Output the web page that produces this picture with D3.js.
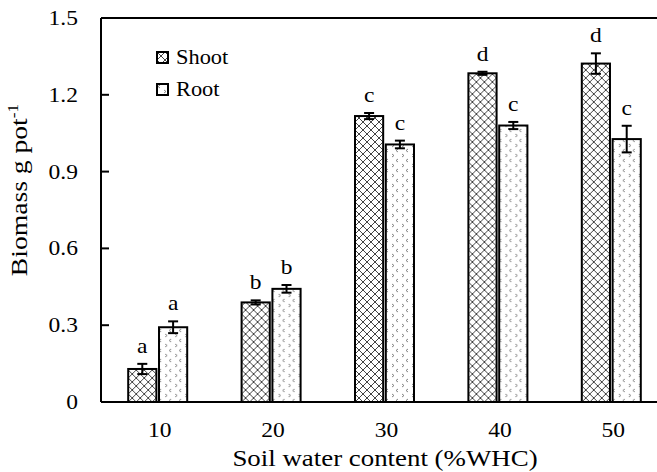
<!DOCTYPE html>
<html><head><meta charset="utf-8">
<script src="https://cdn.jsdelivr.net/npm/d3@7/dist/d3.min.js"></script>
<style>body{margin:0;background:#fff}svg{display:block}</style>
</head><body>
<script>
const categories = ["10","20","30","40","50"];
const seriesNames = ["Shoot","Root"];
const shootValues = [0.129, 0.389, 1.117, 1.284, 1.322];
const rootValues  = [0.292, 0.442, 1.006, 1.080, 1.027];
const shootErrors = [0.020, 0.008, 0.012, 0.006, 0.040];
const rootErrors  = [0.023, 0.015, 0.015, 0.014, 0.052];
const shootLetters = ["a","b","c","d","d"];
const rootLetters  = ["a","b","c","c","c"];
const yTicks = [0, 0.3, 0.6, 0.9, 1.2, 1.5];
const yTickLabels = ["0","0.3","0.6","0.9","1.2","1.5"];

const W = 657, H = 472;
const m = {left:101, top:18, right:-11, bottom:70};
const pw = W - m.left - m.right, ph = H - m.top - m.bottom;
const SX = 1.12;
const font = "'Liberation Serif','Times New Roman',serif";

const svg = d3.select("body").append("svg").attr("width", W).attr("height", H);
const defs = svg.append("defs");
const ph1 = defs.append("pattern").attr("id","cross").attr("patternUnits","userSpaceOnUse")
  .attr("width",8).attr("height",8);
ph1.append("rect").attr("width",8).attr("height",8).attr("fill","#fff");
ph1.append("path").attr("d","M0,0L8,8M8,0L0,8").attr("stroke","#444").attr("stroke-width",1).attr("fill","none");
const ph2 = defs.append("pattern").attr("id","dots").attr("patternUnits","userSpaceOnUse")
  .attr("width",10).attr("height",10);
ph2.append("rect").attr("width",10).attr("height",10).attr("fill","#fff");
ph2.append("path").attr("d","M3,1L1,2.5L3,4M7,6L9,7.5L7,9").attr("stroke","#777").attr("stroke-width",0.9).attr("fill","none");

const g = svg.append("g").attr("transform",`translate(${m.left},${m.top})`);
const x0 = d3.scaleBand().domain(categories).range([0,pw]).paddingInner(0).paddingOuter(0);
const x1 = d3.scaleBand().domain(seriesNames).range([0,59]).paddingInner(0.085);
const y = d3.scaleLinear().domain([0,1.5]).range([ph,0]);

const data = categories.map((c,i)=>({c, vals:[
  {s:"Shoot", v:shootValues[i], e:shootErrors[i], l:shootLetters[i], f:"url(#cross)"},
  {s:"Root", v:rootValues[i], e:rootErrors[i], l:rootLetters[i], f:"url(#dots)"}]}));

const groups = g.selectAll(".grp").data(data).join("g")
  .attr("transform", d=>`translate(${x0(d.c)+x0.bandwidth()/2-29.5},0)`);
const bw = x1.bandwidth();
groups.selectAll("rect").data(d=>d.vals).join("rect")
  .attr("x", d=>x1(d.s)).attr("y", d=>y(d.v)).attr("width", bw).attr("height", d=>ph-y(d.v))
  .attr("fill", d=>d.f).attr("stroke","#000").attr("stroke-width",2);
// error bars
const eb = groups.selectAll(".eb").data(d=>d.vals).join("g").attr("class","eb");
eb.append("line").attr("x1",d=>x1(d.s)+bw/2).attr("x2",d=>x1(d.s)+bw/2)
  .attr("y1",d=>y(d.v+d.e)).attr("y2",d=>y(d.v-d.e)).attr("stroke","#000").attr("stroke-width",2);
eb.append("line").attr("x1",d=>x1(d.s)+bw/2-5).attr("x2",d=>x1(d.s)+bw/2+5)
  .attr("y1",d=>y(d.v+d.e)).attr("y2",d=>y(d.v+d.e)).attr("stroke","#000").attr("stroke-width",2);
eb.append("line").attr("x1",d=>x1(d.s)+bw/2-5).attr("x2",d=>x1(d.s)+bw/2+5)
  .attr("y1",d=>y(d.v-d.e)).attr("y2",d=>y(d.v-d.e)).attr("stroke","#000").attr("stroke-width",2);
// letters
groups.selectAll(".lt").data(d=>d.vals).join("text").attr("class","lt")
  .attr("transform", d=>`translate(${x1(d.s)+bw/2},${y(d.v+d.e)-11}) scale(${SX},1)`)
  .attr("text-anchor","middle").attr("font-family",font).attr("font-size",21).text(d=>d.l);

// axes lines
g.append("line").attr("x1",0).attr("x2",pw).attr("y1",0).attr("y2",0).attr("stroke","#000").attr("stroke-width",2);
g.append("line").attr("x1",0).attr("x2",pw).attr("y1",ph).attr("y2",ph).attr("stroke","#000").attr("stroke-width",2);
g.append("line").attr("x1",0).attr("x2",0).attr("y1",0).attr("y2",ph).attr("stroke","#000").attr("stroke-width",2);
yTicks.forEach((t,i)=>{
  g.append("line").attr("x1",0).attr("x2",8).attr("y1",y(t)).attr("y2",y(t)).attr("stroke","#000").attr("stroke-width",2);
  g.append("text").attr("transform",`translate(-23,${y(t)+7}) scale(${SX},1)`).attr("text-anchor","end")
    .attr("font-family",font).attr("font-size",21).text(yTickLabels[i]);
});
categories.forEach(c=>{
  g.append("text").attr("transform",`translate(${x0(c)+x0.bandwidth()/2+2},${ph+35}) scale(${SX},1)`)
   .attr("text-anchor","middle").attr("font-family",font).attr("font-size",21).text(c);
});
svg.append("text").attr("transform",`translate(385,466) scale(${SX},1)`).attr("text-anchor","middle")
  .attr("font-family",font).attr("font-size",24).text("Soil water content (%WHC)");
const yl = svg.append("text").attr("transform",`translate(27,190) rotate(-90) scale(1.15,1)`).attr("text-anchor","middle")
  .attr("font-family",font).attr("font-size",24);
yl.append("tspan").text("Biomass g pot");
yl.append("tspan").attr("dy",-9).attr("font-size",15).text("-1");

// legend
const leg = svg.append("g").attr("transform","translate(157,52)");
seriesNames.forEach((s,i)=>{
  const lg = leg.append("g").attr("transform",`translate(0,${i*32})`);
  lg.append("rect").attr("width",11).attr("height",11).attr("fill", i===0?"url(#cross)":"url(#dots)")
    .attr("stroke","#000").attr("stroke-width",2);
  lg.append("text").attr("transform",`translate(19,12) scale(${SX},1)`).attr("font-family",font)
    .attr("font-size",20).text(s);
});
</script>
</body></html>
